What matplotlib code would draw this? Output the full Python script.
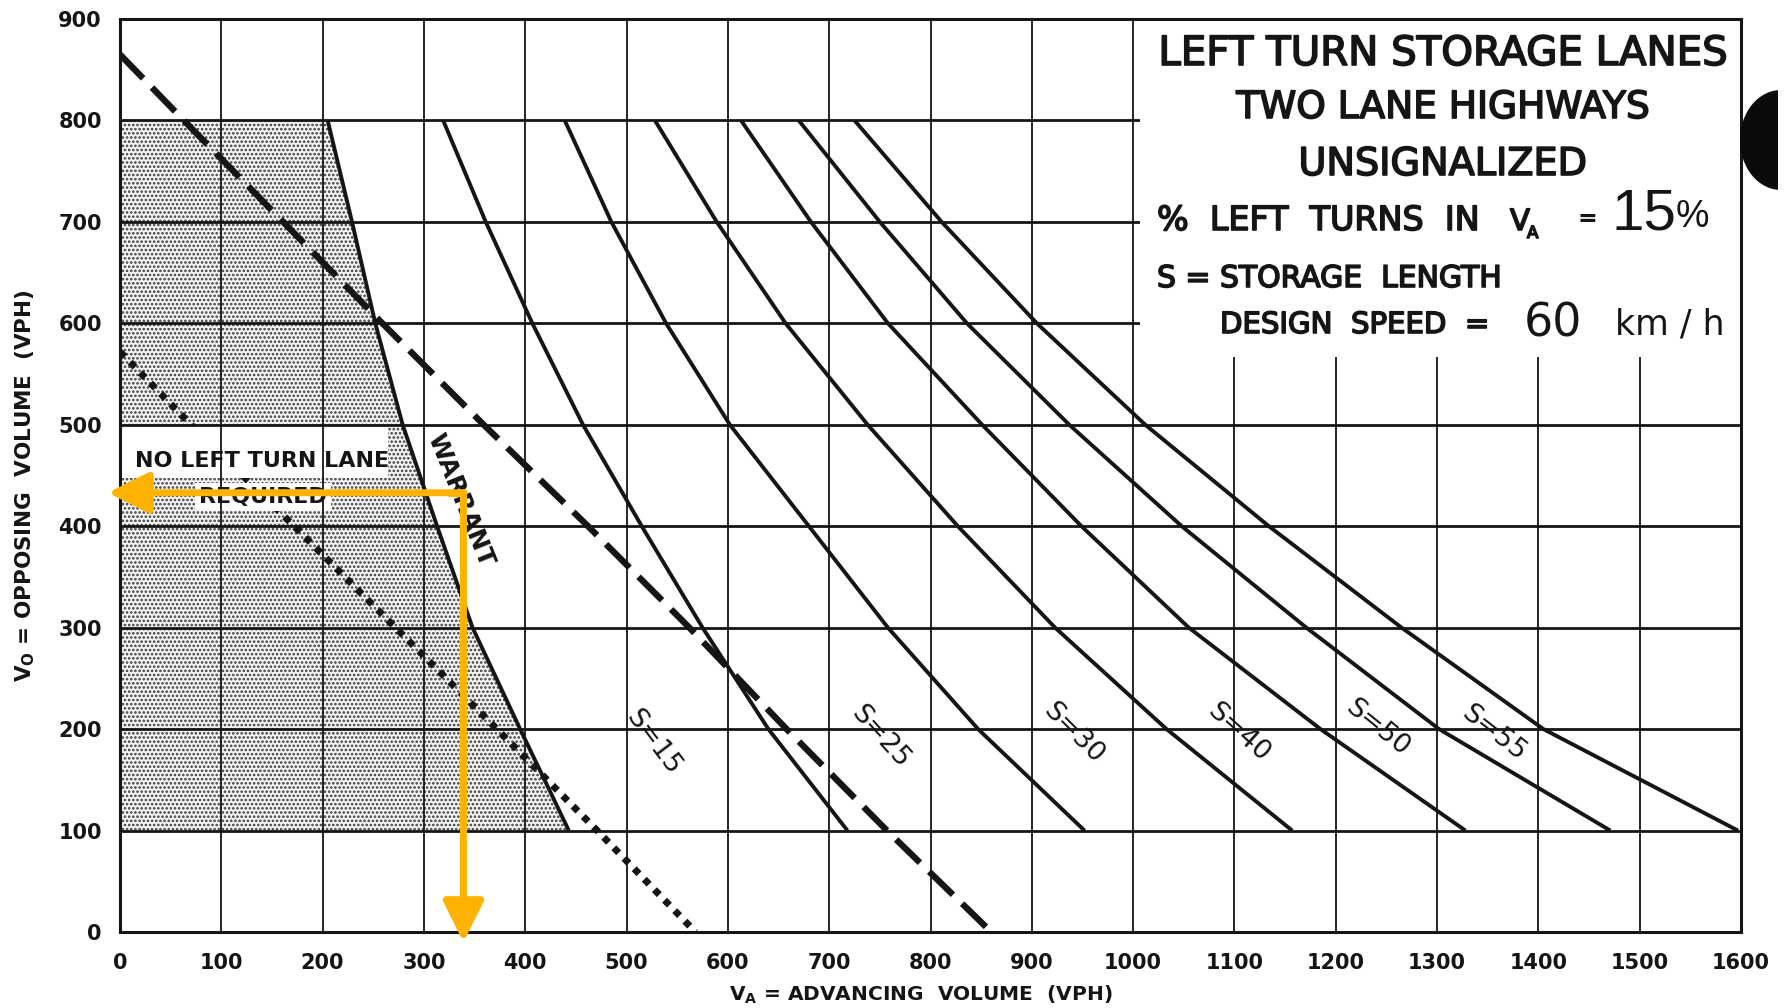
import matplotlib
matplotlib.use('Agg')
import matplotlib.pyplot as plt
from matplotlib.patches import Rectangle, Ellipse
import matplotlib.patheffects as pe

# ---------------- data ----------------
x_ticks = list(range(0, 1601, 100))
y_ticks = list(range(0, 901, 100))

# warrant curve (boundary of "no left turn lane required" region)
warrant_y = [800, 700, 600, 500, 400, 300, 200, 100]
warrant_x = [205, 229, 252, 279, 313, 348, 395, 443]

# storage-length curves, x (advancing volume) at each opposing volume level
s_levels = [800, 700, 600, 500, 400, 300, 200, 100]
s15 = [319, 361, 407, 457, 515, 575, 640, 718]
s25 = [439, 485, 539, 602, 680, 758, 847, 952]
s30 = [528, 589, 657, 738, 827, 923, 1033, 1157]
s40 = [613, 682, 758, 851, 949, 1055, 1185, 1328]
s50 = [670, 750, 836, 937, 1048, 1171, 1302, 1471]
s55 = [725, 811, 905, 1012, 1134, 1265, 1405, 1597]
s_curves = [s15, s25, s30, s40, s50, s55]
s_labels = ['S=15', 'S=25', 'S=30', 'S=40', 'S=50', 'S=55']
s_label_x = [526, 750, 941, 1104, 1241, 1356]
s_label_y = [187, 192, 196, 197, 201, 196]
s_label_rot = [-53, -48, -45, -42, -39, -38]

# dashed and dotted lines
dashed_y = [865, 800, 700, 600, 500, 400, 300, 200, 100, 0]
dashed_x = [0, 63, 161, 259, 359, 462, 562, 658, 757, 860]
dotted_y = [572, 500, 400, 300, 200, 100, 0]
dotted_x = [0, 70, 172, 272, 372, 471, 568]

# example reading (orange arrows)
example_va = 339
example_vo = 433
arrow_tip_va = -12
arrow_tip_vo = -10

# ---------------- figure ----------------
W, H = 1788, 1008
ink = '#151515'
orange = '#FFB300'
plt.rcParams['hatch.linewidth'] = 1.25
plt.rcParams['font.family'] = ['DejaVu Sans']

fig = plt.figure(figsize=(W / 100, H / 100), dpi=100)
fig.patch.set_facecolor('white')
ax = fig.add_axes([120 / W, 1 - 932 / H, 1621 / W, 913 / H])
ax.set_xlim(0, 1600)
ax.set_ylim(0, 900)


def fx(X):
    return X / W


def fy(Y):
    return 1 - Y / H


# stippled region
ax.fill_betweenx(warrant_y, 0, warrant_x, facecolor='#f4f4f4', hatch='....',
                 edgecolor='#3a3a3a', linewidth=0, zorder=1)

# dotted line
ax.plot(dotted_x, dotted_y, color=ink, lw=5, linestyle=(0, (1, 1.1)),
        dash_capstyle='butt', zorder=1.3)

# white band behind the label
ax.add_patch(Rectangle((0, 448), 265, 52, facecolor='white', edgecolor='none', zorder=1.5))
ax.text(15, 458, 'NO LEFT TURN LANE', fontsize=16, fontweight='bold', ha='left',
        va='baseline', color=ink, zorder=1.6)
ax.text(141, 423, 'REQUIRED', fontsize=16, fontweight='bold', ha='center',
        va='baseline', color=ink, zorder=1.6,
        bbox=dict(facecolor='white', edgecolor='none', pad=3))

# grid
ax.vlines(x_ticks[1:-1], 0, 900, colors=ink, lw=1.3, zorder=2)
ax.hlines(y_ticks[1:-1], 0, 1600, colors=ink, lw=2.0, zorder=2)

# title box cover
ax.add_patch(Rectangle((1007, 567), 593, 333, facecolor='white', edgecolor='none', zorder=2.2))

# curves
ax.plot(warrant_x, warrant_y, color=ink, lw=2.8, zorder=3, solid_capstyle='butt')
for xs in s_curves:
    ax.plot(xs, s_levels, color=ink, lw=2.8, zorder=3, solid_capstyle='butt')
ax.plot(dashed_x, dashed_y, color=ink, lw=4.6, linestyle=(0, (5.2, 2.0)),
        dash_capstyle='butt', zorder=3)

# curve labels
for lab, lx, ly, rot in zip(s_labels, s_label_x, s_label_y, s_label_rot):
    ax.text(lx, ly, lab, rotation=rot, rotation_mode='anchor', ha='center',
            va='center', fontsize=19.5, color=ink, zorder=4)
ax.text(336, 426, 'WARRANT', rotation=-68, rotation_mode='anchor', ha='center',
        va='center', fontsize=18, fontweight='bold', color=ink, zorder=4)

# axes styling
for sp in ax.spines.values():
    sp.set_linewidth(2.2)
    sp.set_color(ink)
    sp.set_zorder(3.5)
ax.set_xticks(x_ticks)
ax.set_yticks(y_ticks)
ax.tick_params(axis='x', length=0, labelsize=15, pad=15, colors=ink)
ax.tick_params(axis='y', length=0, labelsize=15, pad=13, colors=ink)
for lab in ax.get_xticklabels() + ax.get_yticklabels():
    lab.set_fontweight('bold')

fig.text(fx(25), fy(486), r'$\mathbf{V_O}$ = OPPOSING  VOLUME  (VPH)', rotation=90,
         ha='center', va='center', fontsize=15.5, fontweight='bold', color=ink)
fig.text(fx(921), fy(1006), r'$\mathbf{V_A}$ = ADVANCING  VOLUME  (VPH)',
         ha='center', va='bottom', fontsize=14.5, fontweight='bold', color=ink)

# title block
thick = [pe.withStroke(linewidth=1.2, foreground=ink)]
fig.text(fx(1443), fy(65), 'LEFT TURN STORAGE LANES', ha='center', va='baseline',
         fontsize=29, color=ink, path_effects=thick)
fig.text(fx(1443), fy(118), 'TWO LANE HIGHWAYS', ha='center', va='baseline',
         fontsize=27, color=ink, path_effects=thick)
fig.text(fx(1443), fy(175), 'UNSIGNALIZED', ha='center', va='baseline',
         fontsize=27.5, color=ink, path_effects=thick)
fig.text(fx(1157), fy(230), '%  LEFT  TURNS  IN', ha='left', va='baseline',
         fontsize=24, color=ink, path_effects=thick)
fig.text(fx(1510), fy(230), 'V', ha='left', va='baseline', fontsize=21, color=ink,
         path_effects=thick)
fig.text(fx(1527), fy(238), 'A', ha='left', va='baseline', fontsize=12, color=ink,
         path_effects=thick)
fig.text(fx(1578), fy(226), '=', ha='left', va='baseline', fontsize=17,
         fontweight='bold', color=ink)
fig.text(fx(1611), fy(230), '15', ha='left', va='baseline', fontsize=42,
         family='Liberation Sans', color=ink)
fig.text(fx(1676), fy(227), '%', ha='left', va='baseline', fontsize=27,
         family='Liberation Sans', color=ink)
fig.text(fx(1157), fy(287), 'S = STORAGE  LENGTH', ha='left', va='baseline',
         fontsize=21.5, color=ink, path_effects=thick)
fig.text(fx(1220), fy(333), 'DESIGN  SPEED  =', ha='left', va='baseline',
         fontsize=21, color=ink, path_effects=thick)
fig.text(fx(1553), fy(337), '60', ha='center', va='baseline', fontsize=33, color=ink)
fig.text(fx(1615), fy(335), 'km / h', ha='left', va='baseline', fontsize=25, color=ink)

# orange example arrows
head = dict(arrowstyle='-|>,head_length=1.0,head_width=0.5', color=orange, lw=5,
            shrinkA=0, shrinkB=0, mutation_scale=25)
ax.annotate('', xy=(arrow_tip_va, example_vo), xytext=(example_va, example_vo),
            arrowprops=head, annotation_clip=False, zorder=6)
ax.annotate('', xy=(example_va, arrow_tip_vo), xytext=(example_va, example_vo),
            arrowprops=head, annotation_clip=False, zorder=6)
ax.plot([example_va - 15, example_va, example_va], [example_vo, example_vo, example_vo - 15],
        color=orange, lw=5, solid_joinstyle='miter', solid_capstyle='butt', zorder=6,
        clip_on=False)

# scanning artefact (punched hole) at the right edge
fig.add_artist(Ellipse((fx(1781), fy(140)), 82 / W, 100 / H, transform=fig.transFigure,
                       facecolor='#0a0a0a', edgecolor='none'))
fig.add_artist(Rectangle((fx(1778), fy(200)), 12 / W, 120 / H, transform=fig.transFigure,
                         facecolor='white', edgecolor='none'))

fig.savefig('out.png', dpi=100, facecolor='white')
